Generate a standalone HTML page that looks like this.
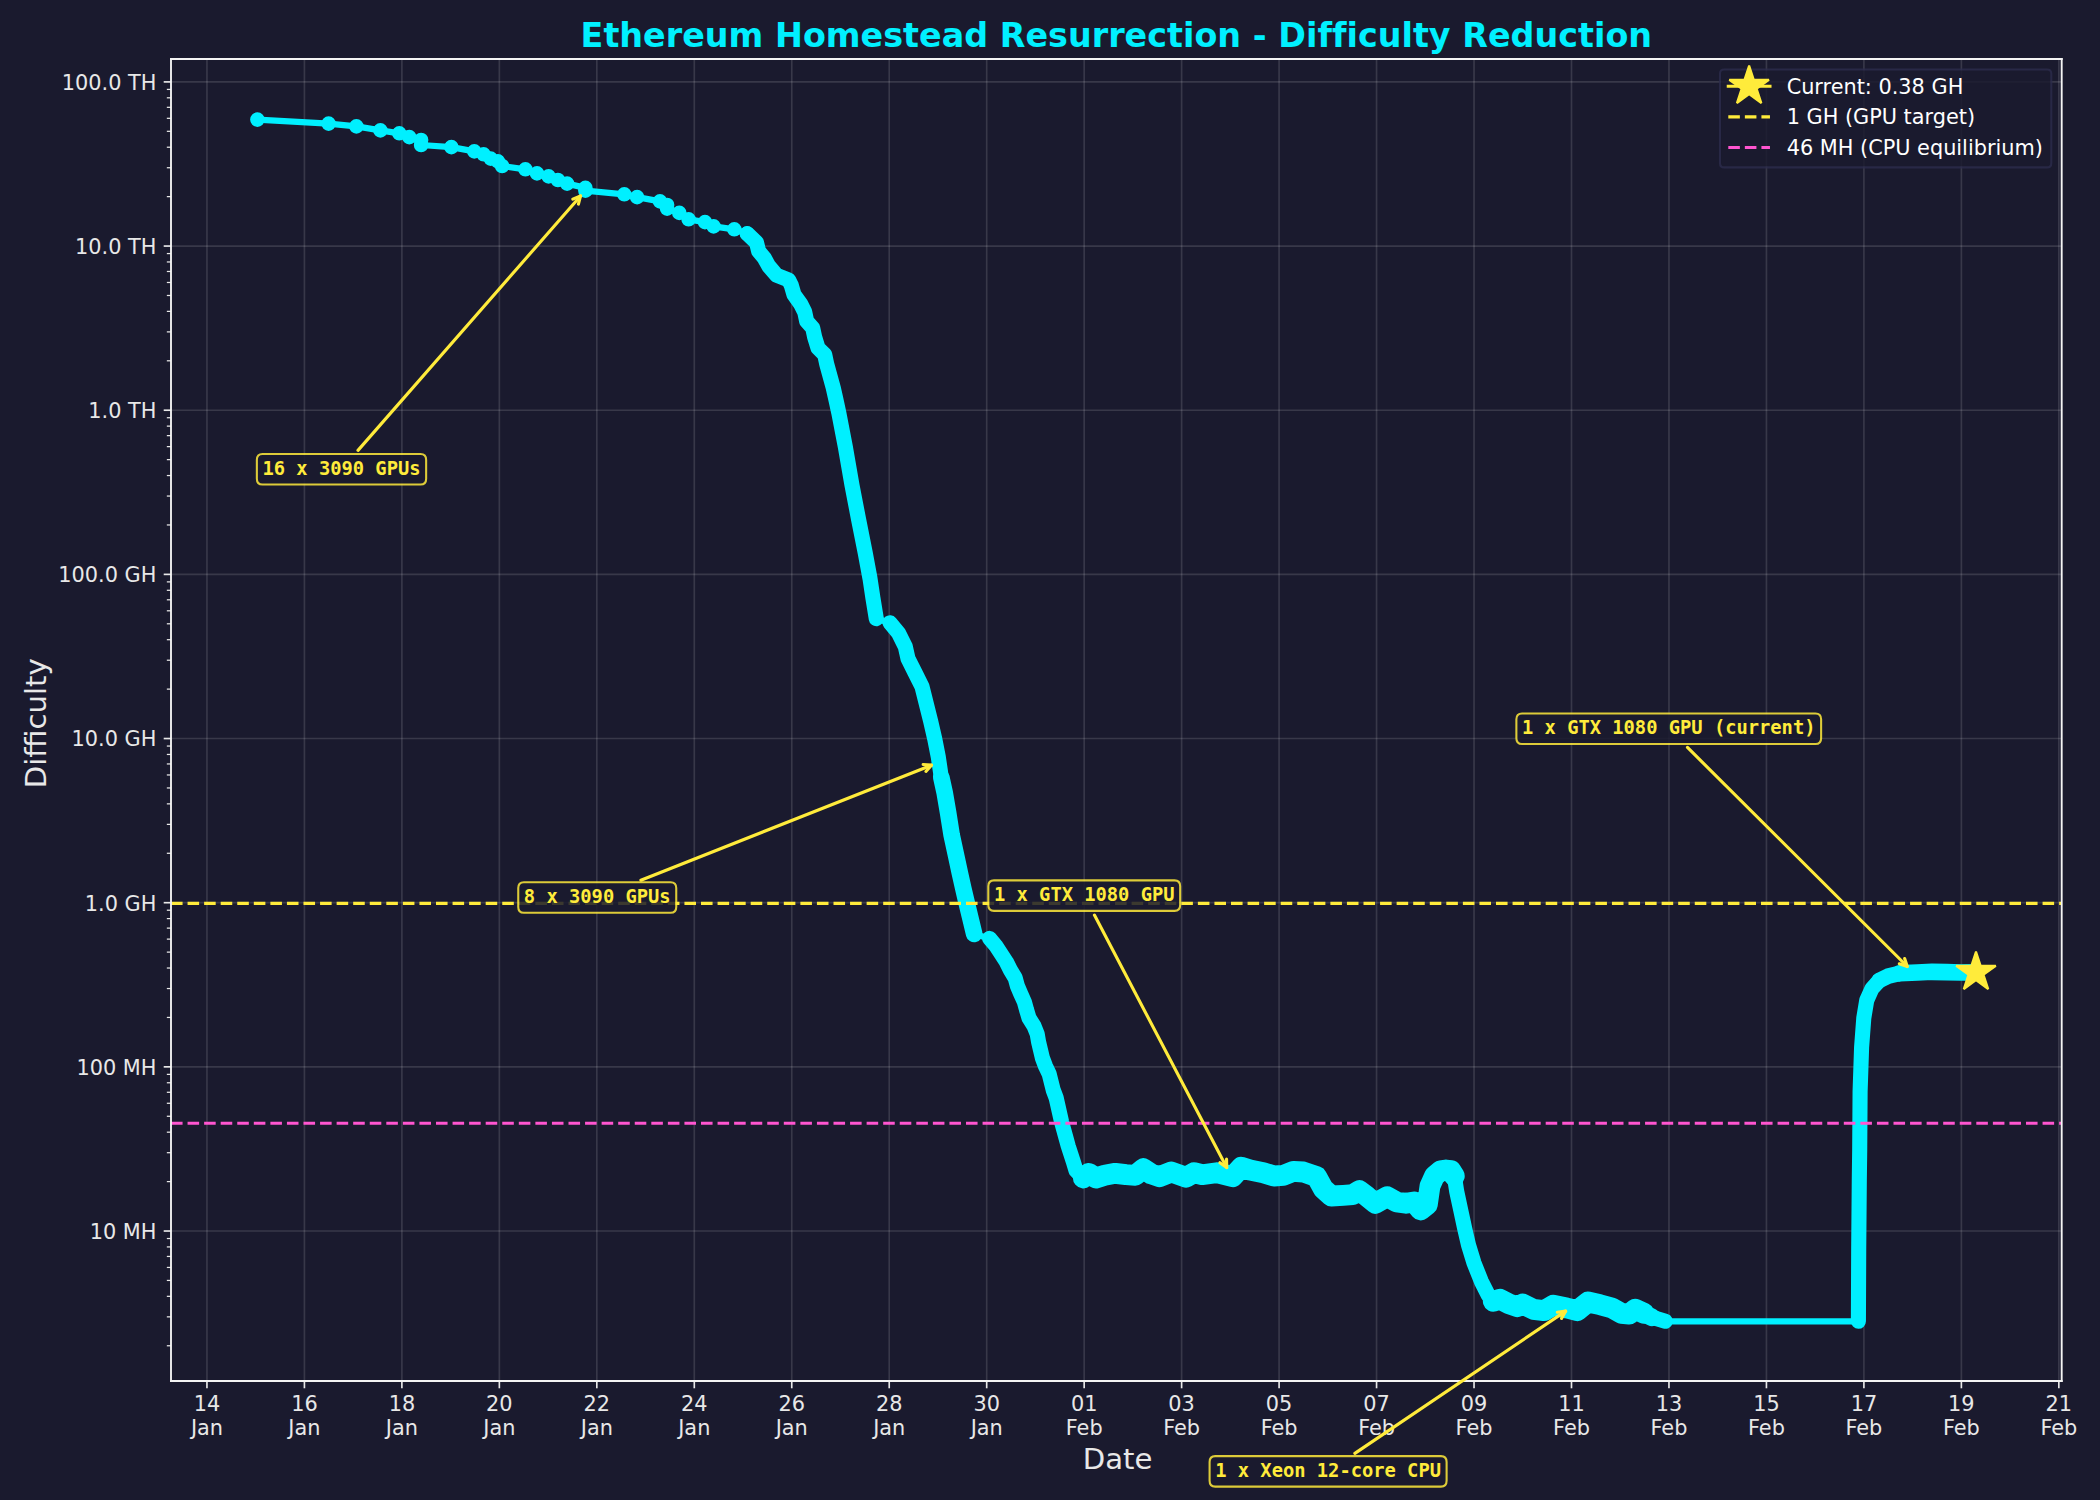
<!DOCTYPE html>
<html lang="en">
<head>
<meta charset="utf-8">
<title>Ethereum Homestead Resurrection - Difficulty Reduction</title>
<style>
html,body{margin:0;padding:0;background:#1a1a2e;}
body{width:2100px;height:1500px;overflow:hidden;}
svg{display:block;}
</style>
</head>
<body>
<svg width="2100" height="1500" viewBox="0 0 1008 720">
<defs>
<style type="text/css">*{stroke-linejoin: round; stroke-linecap: butt}</style>
</defs>
<g id="figure_1">
<g id="patch_1">
<path d="M 0 720 L 1008 720 L 1008 0 L 0 0 z
" style="fill: #1a1a2e"/>
</g>
<g id="axes_1">
<g id="patch_2">
<path d="M 82.08 662.88 L 989.616 662.88 L 989.616 28.32 L 82.08 28.32 z
" style="fill: #1a1a2e"/>
</g>
<g id="matplotlib.axis_1">
<g id="xtick_1">
<g id="line2d_1">
<path d="M 99.336 662.88 L 99.336 28.32 
" clip-path="url(#pba036d40d7)" style="fill: none; stroke: #ffffff; stroke-opacity: 0.135; stroke-width: 0.8; stroke-linecap: square"/>
</g>
<g id="line2d_2">
<defs>
<path id="mf7b5f0c500" d="M 0 0 L 0 3.5 
" style="stroke: #e8e8e8; stroke-width: 0.8"/>
</defs>
<g>
<use href="#mf7b5f0c500" x="99.336" y="662.88" style="fill: #e8e8e8; stroke: #e8e8e8; stroke-width: 0.8"/>
</g>
</g>
<g id="text_1">
<text style="font-size: 10px; font-family: 'DejaVu Sans', 'Liberation Sans', sans-serif; fill: #e8e8e8" transform="translate(92.973 677.478)">14</text>
<text style="font-size: 10px; font-family: 'DejaVu Sans', 'Liberation Sans', sans-serif; fill: #e8e8e8" transform="translate(91.628 688.676)">Jan</text>
</g>
</g>
<g id="xtick_2">
<g id="line2d_3">
<path d="M 146.120 662.88 L 146.120 28.32 
" clip-path="url(#pba036d40d7)" style="fill: none; stroke: #ffffff; stroke-opacity: 0.135; stroke-width: 0.8; stroke-linecap: square"/>
</g>
<g id="line2d_4">
<g>
<use href="#mf7b5f0c500" x="146.120" y="662.88" style="fill: #e8e8e8; stroke: #e8e8e8; stroke-width: 0.8"/>
</g>
</g>
<g id="text_2">
<text style="font-size: 10px; font-family: 'DejaVu Sans', 'Liberation Sans', sans-serif; fill: #e8e8e8" transform="translate(139.758 677.478)">16</text>
<text style="font-size: 10px; font-family: 'DejaVu Sans', 'Liberation Sans', sans-serif; fill: #e8e8e8" transform="translate(138.412 688.676)">Jan</text>
</g>
</g>
<g id="xtick_3">
<g id="line2d_5">
<path d="M 192.905 662.88 L 192.905 28.32 
" clip-path="url(#pba036d40d7)" style="fill: none; stroke: #ffffff; stroke-opacity: 0.135; stroke-width: 0.8; stroke-linecap: square"/>
</g>
<g id="line2d_6">
<g>
<use href="#mf7b5f0c500" x="192.905" y="662.88" style="fill: #e8e8e8; stroke: #e8e8e8; stroke-width: 0.8"/>
</g>
</g>
<g id="text_3">
<text style="font-size: 10px; font-family: 'DejaVu Sans', 'Liberation Sans', sans-serif; fill: #e8e8e8" transform="translate(186.542 677.478)">18</text>
<text style="font-size: 10px; font-family: 'DejaVu Sans', 'Liberation Sans', sans-serif; fill: #e8e8e8" transform="translate(185.197 688.676)">Jan</text>
</g>
</g>
<g id="xtick_4">
<g id="line2d_7">
<path d="M 239.689 662.88 L 239.689 28.32 
" clip-path="url(#pba036d40d7)" style="fill: none; stroke: #ffffff; stroke-opacity: 0.135; stroke-width: 0.8; stroke-linecap: square"/>
</g>
<g id="line2d_8">
<g>
<use href="#mf7b5f0c500" x="239.689" y="662.88" style="fill: #e8e8e8; stroke: #e8e8e8; stroke-width: 0.8"/>
</g>
</g>
<g id="text_4">
<text style="font-size: 10px; font-family: 'DejaVu Sans', 'Liberation Sans', sans-serif; fill: #e8e8e8" transform="translate(233.327 677.478)">20</text>
<text style="font-size: 10px; font-family: 'DejaVu Sans', 'Liberation Sans', sans-serif; fill: #e8e8e8" transform="translate(231.982 688.676)">Jan</text>
</g>
</g>
<g id="xtick_5">
<g id="line2d_9">
<path d="M 286.474 662.88 L 286.474 28.32 
" clip-path="url(#pba036d40d7)" style="fill: none; stroke: #ffffff; stroke-opacity: 0.135; stroke-width: 0.8; stroke-linecap: square"/>
</g>
<g id="line2d_10">
<g>
<use href="#mf7b5f0c500" x="286.474" y="662.88" style="fill: #e8e8e8; stroke: #e8e8e8; stroke-width: 0.8"/>
</g>
</g>
<g id="text_5">
<text style="font-size: 10px; font-family: 'DejaVu Sans', 'Liberation Sans', sans-serif; fill: #e8e8e8" transform="translate(280.112 677.478)">22</text>
<text style="font-size: 10px; font-family: 'DejaVu Sans', 'Liberation Sans', sans-serif; fill: #e8e8e8" transform="translate(278.766 688.676)">Jan</text>
</g>
</g>
<g id="xtick_6">
<g id="line2d_11">
<path d="M 333.259 662.88 L 333.259 28.32 
" clip-path="url(#pba036d40d7)" style="fill: none; stroke: #ffffff; stroke-opacity: 0.135; stroke-width: 0.8; stroke-linecap: square"/>
</g>
<g id="line2d_12">
<g>
<use href="#mf7b5f0c500" x="333.259" y="662.88" style="fill: #e8e8e8; stroke: #e8e8e8; stroke-width: 0.8"/>
</g>
</g>
<g id="text_6">
<text style="font-size: 10px; font-family: 'DejaVu Sans', 'Liberation Sans', sans-serif; fill: #e8e8e8" transform="translate(326.896 677.478)">24</text>
<text style="font-size: 10px; font-family: 'DejaVu Sans', 'Liberation Sans', sans-serif; fill: #e8e8e8" transform="translate(325.551 688.676)">Jan</text>
</g>
</g>
<g id="xtick_7">
<g id="line2d_13">
<path d="M 380.043 662.88 L 380.043 28.32 
" clip-path="url(#pba036d40d7)" style="fill: none; stroke: #ffffff; stroke-opacity: 0.135; stroke-width: 0.8; stroke-linecap: square"/>
</g>
<g id="line2d_14">
<g>
<use href="#mf7b5f0c500" x="380.043" y="662.88" style="fill: #e8e8e8; stroke: #e8e8e8; stroke-width: 0.8"/>
</g>
</g>
<g id="text_7">
<text style="font-size: 10px; font-family: 'DejaVu Sans', 'Liberation Sans', sans-serif; fill: #e8e8e8" transform="translate(373.681 677.478)">26</text>
<text style="font-size: 10px; font-family: 'DejaVu Sans', 'Liberation Sans', sans-serif; fill: #e8e8e8" transform="translate(372.336 688.676)">Jan</text>
</g>
</g>
<g id="xtick_8">
<g id="line2d_15">
<path d="M 426.828 662.88 L 426.828 28.32 
" clip-path="url(#pba036d40d7)" style="fill: none; stroke: #ffffff; stroke-opacity: 0.135; stroke-width: 0.8; stroke-linecap: square"/>
</g>
<g id="line2d_16">
<g>
<use href="#mf7b5f0c500" x="426.828" y="662.88" style="fill: #e8e8e8; stroke: #e8e8e8; stroke-width: 0.8"/>
</g>
</g>
<g id="text_8">
<text style="font-size: 10px; font-family: 'DejaVu Sans', 'Liberation Sans', sans-serif; fill: #e8e8e8" transform="translate(420.465 677.478)">28</text>
<text style="font-size: 10px; font-family: 'DejaVu Sans', 'Liberation Sans', sans-serif; fill: #e8e8e8" transform="translate(419.120 688.676)">Jan</text>
</g>
</g>
<g id="xtick_9">
<g id="line2d_17">
<path d="M 473.613 662.88 L 473.613 28.32 
" clip-path="url(#pba036d40d7)" style="fill: none; stroke: #ffffff; stroke-opacity: 0.135; stroke-width: 0.8; stroke-linecap: square"/>
</g>
<g id="line2d_18">
<g>
<use href="#mf7b5f0c500" x="473.613" y="662.88" style="fill: #e8e8e8; stroke: #e8e8e8; stroke-width: 0.8"/>
</g>
</g>
<g id="text_9">
<text style="font-size: 10px; font-family: 'DejaVu Sans', 'Liberation Sans', sans-serif; fill: #e8e8e8" transform="translate(467.250 677.478)">30</text>
<text style="font-size: 10px; font-family: 'DejaVu Sans', 'Liberation Sans', sans-serif; fill: #e8e8e8" transform="translate(465.905 688.676)">Jan</text>
</g>
</g>
<g id="xtick_10">
<g id="line2d_19">
<path d="M 520.397 662.88 L 520.397 28.32 
" clip-path="url(#pba036d40d7)" style="fill: none; stroke: #ffffff; stroke-opacity: 0.135; stroke-width: 0.8; stroke-linecap: square"/>
</g>
<g id="line2d_20">
<g>
<use href="#mf7b5f0c500" x="520.397" y="662.88" style="fill: #e8e8e8; stroke: #e8e8e8; stroke-width: 0.8"/>
</g>
</g>
<g id="text_10">
<text style="font-size: 10px; font-family: 'DejaVu Sans', 'Liberation Sans', sans-serif; fill: #e8e8e8" transform="translate(514.035 677.478)">01</text>
<text style="font-size: 10px; font-family: 'DejaVu Sans', 'Liberation Sans', sans-serif; fill: #e8e8e8" transform="translate(511.546 688.676)">Feb</text>
</g>
</g>
<g id="xtick_11">
<g id="line2d_21">
<path d="M 567.182 662.88 L 567.182 28.32 
" clip-path="url(#pba036d40d7)" style="fill: none; stroke: #ffffff; stroke-opacity: 0.135; stroke-width: 0.8; stroke-linecap: square"/>
</g>
<g id="line2d_22">
<g>
<use href="#mf7b5f0c500" x="567.182" y="662.88" style="fill: #e8e8e8; stroke: #e8e8e8; stroke-width: 0.8"/>
</g>
</g>
<g id="text_11">
<text style="font-size: 10px; font-family: 'DejaVu Sans', 'Liberation Sans', sans-serif; fill: #e8e8e8" transform="translate(560.819 677.478)">03</text>
<text style="font-size: 10px; font-family: 'DejaVu Sans', 'Liberation Sans', sans-serif; fill: #e8e8e8" transform="translate(558.330 688.676)">Feb</text>
</g>
</g>
<g id="xtick_12">
<g id="line2d_23">
<path d="M 613.967 662.88 L 613.967 28.32 
" clip-path="url(#pba036d40d7)" style="fill: none; stroke: #ffffff; stroke-opacity: 0.135; stroke-width: 0.8; stroke-linecap: square"/>
</g>
<g id="line2d_24">
<g>
<use href="#mf7b5f0c500" x="613.967" y="662.88" style="fill: #e8e8e8; stroke: #e8e8e8; stroke-width: 0.8"/>
</g>
</g>
<g id="text_12">
<text style="font-size: 10px; font-family: 'DejaVu Sans', 'Liberation Sans', sans-serif; fill: #e8e8e8" transform="translate(607.604 677.478)">05</text>
<text style="font-size: 10px; font-family: 'DejaVu Sans', 'Liberation Sans', sans-serif; fill: #e8e8e8" transform="translate(605.115 688.676)">Feb</text>
</g>
</g>
<g id="xtick_13">
<g id="line2d_25">
<path d="M 660.751 662.88 L 660.751 28.32 
" clip-path="url(#pba036d40d7)" style="fill: none; stroke: #ffffff; stroke-opacity: 0.135; stroke-width: 0.8; stroke-linecap: square"/>
</g>
<g id="line2d_26">
<g>
<use href="#mf7b5f0c500" x="660.751" y="662.88" style="fill: #e8e8e8; stroke: #e8e8e8; stroke-width: 0.8"/>
</g>
</g>
<g id="text_13">
<text style="font-size: 10px; font-family: 'DejaVu Sans', 'Liberation Sans', sans-serif; fill: #e8e8e8" transform="translate(654.389 677.478)">07</text>
<text style="font-size: 10px; font-family: 'DejaVu Sans', 'Liberation Sans', sans-serif; fill: #e8e8e8" transform="translate(651.900 688.676)">Feb</text>
</g>
</g>
<g id="xtick_14">
<g id="line2d_27">
<path d="M 707.536 662.88 L 707.536 28.32 
" clip-path="url(#pba036d40d7)" style="fill: none; stroke: #ffffff; stroke-opacity: 0.135; stroke-width: 0.8; stroke-linecap: square"/>
</g>
<g id="line2d_28">
<g>
<use href="#mf7b5f0c500" x="707.536" y="662.88" style="fill: #e8e8e8; stroke: #e8e8e8; stroke-width: 0.8"/>
</g>
</g>
<g id="text_14">
<text style="font-size: 10px; font-family: 'DejaVu Sans', 'Liberation Sans', sans-serif; fill: #e8e8e8" transform="translate(701.173 677.478)">09</text>
<text style="font-size: 10px; font-family: 'DejaVu Sans', 'Liberation Sans', sans-serif; fill: #e8e8e8" transform="translate(698.684 688.676)">Feb</text>
</g>
</g>
<g id="xtick_15">
<g id="line2d_29">
<path d="M 754.320 662.88 L 754.320 28.32 
" clip-path="url(#pba036d40d7)" style="fill: none; stroke: #ffffff; stroke-opacity: 0.135; stroke-width: 0.8; stroke-linecap: square"/>
</g>
<g id="line2d_30">
<g>
<use href="#mf7b5f0c500" x="754.320" y="662.88" style="fill: #e8e8e8; stroke: #e8e8e8; stroke-width: 0.8"/>
</g>
</g>
<g id="text_15">
<text style="font-size: 10px; font-family: 'DejaVu Sans', 'Liberation Sans', sans-serif; fill: #e8e8e8" transform="translate(747.958 677.478)">11</text>
<text style="font-size: 10px; font-family: 'DejaVu Sans', 'Liberation Sans', sans-serif; fill: #e8e8e8" transform="translate(745.469 688.676)">Feb</text>
</g>
</g>
<g id="xtick_16">
<g id="line2d_31">
<path d="M 801.105 662.88 L 801.105 28.32 
" clip-path="url(#pba036d40d7)" style="fill: none; stroke: #ffffff; stroke-opacity: 0.135; stroke-width: 0.8; stroke-linecap: square"/>
</g>
<g id="line2d_32">
<g>
<use href="#mf7b5f0c500" x="801.105" y="662.88" style="fill: #e8e8e8; stroke: #e8e8e8; stroke-width: 0.8"/>
</g>
</g>
<g id="text_16">
<text style="font-size: 10px; font-family: 'DejaVu Sans', 'Liberation Sans', sans-serif; fill: #e8e8e8" transform="translate(794.743 677.478)">13</text>
<text style="font-size: 10px; font-family: 'DejaVu Sans', 'Liberation Sans', sans-serif; fill: #e8e8e8" transform="translate(792.254 688.676)">Feb</text>
</g>
</g>
<g id="xtick_17">
<g id="line2d_33">
<path d="M 847.890 662.88 L 847.890 28.32 
" clip-path="url(#pba036d40d7)" style="fill: none; stroke: #ffffff; stroke-opacity: 0.135; stroke-width: 0.8; stroke-linecap: square"/>
</g>
<g id="line2d_34">
<g>
<use href="#mf7b5f0c500" x="847.890" y="662.88" style="fill: #e8e8e8; stroke: #e8e8e8; stroke-width: 0.8"/>
</g>
</g>
<g id="text_17">
<text style="font-size: 10px; font-family: 'DejaVu Sans', 'Liberation Sans', sans-serif; fill: #e8e8e8" transform="translate(841.527 677.478)">15</text>
<text style="font-size: 10px; font-family: 'DejaVu Sans', 'Liberation Sans', sans-serif; fill: #e8e8e8" transform="translate(839.038 688.676)">Feb</text>
</g>
</g>
<g id="xtick_18">
<g id="line2d_35">
<path d="M 894.674 662.88 L 894.674 28.32 
" clip-path="url(#pba036d40d7)" style="fill: none; stroke: #ffffff; stroke-opacity: 0.135; stroke-width: 0.8; stroke-linecap: square"/>
</g>
<g id="line2d_36">
<g>
<use href="#mf7b5f0c500" x="894.674" y="662.88" style="fill: #e8e8e8; stroke: #e8e8e8; stroke-width: 0.8"/>
</g>
</g>
<g id="text_18">
<text style="font-size: 10px; font-family: 'DejaVu Sans', 'Liberation Sans', sans-serif; fill: #e8e8e8" transform="translate(888.312 677.478)">17</text>
<text style="font-size: 10px; font-family: 'DejaVu Sans', 'Liberation Sans', sans-serif; fill: #e8e8e8" transform="translate(885.823 688.676)">Feb</text>
</g>
</g>
<g id="xtick_19">
<g id="line2d_37">
<path d="M 941.459 662.88 L 941.459 28.32 
" clip-path="url(#pba036d40d7)" style="fill: none; stroke: #ffffff; stroke-opacity: 0.135; stroke-width: 0.8; stroke-linecap: square"/>
</g>
<g id="line2d_38">
<g>
<use href="#mf7b5f0c500" x="941.459" y="662.88" style="fill: #e8e8e8; stroke: #e8e8e8; stroke-width: 0.8"/>
</g>
</g>
<g id="text_19">
<text style="font-size: 10px; font-family: 'DejaVu Sans', 'Liberation Sans', sans-serif; fill: #e8e8e8" transform="translate(935.097 677.478)">19</text>
<text style="font-size: 10px; font-family: 'DejaVu Sans', 'Liberation Sans', sans-serif; fill: #e8e8e8" transform="translate(932.607 688.676)">Feb</text>
</g>
</g>
<g id="xtick_20">
<g id="line2d_39">
<path d="M 988.244 662.88 L 988.244 28.32 
" clip-path="url(#pba036d40d7)" style="fill: none; stroke: #ffffff; stroke-opacity: 0.135; stroke-width: 0.8; stroke-linecap: square"/>
</g>
<g id="line2d_40">
<g>
<use href="#mf7b5f0c500" x="988.244" y="662.88" style="fill: #e8e8e8; stroke: #e8e8e8; stroke-width: 0.8"/>
</g>
</g>
<g id="text_20">
<text style="font-size: 10px; font-family: 'DejaVu Sans', 'Liberation Sans', sans-serif; fill: #e8e8e8" transform="translate(981.881 677.478)">21</text>
<text style="font-size: 10px; font-family: 'DejaVu Sans', 'Liberation Sans', sans-serif; fill: #e8e8e8" transform="translate(979.392 688.676)">Feb</text>
</g>
</g>
<g id="text_21">
<text style="font-size: 14px; font-family: 'DejaVu Sans', 'Liberation Sans', sans-serif; text-anchor: middle; fill: #e8e8e8" x="536.424" y="704.914" transform="rotate(-0 536.424 704.914)">Date</text>
</g>
</g>
<g id="matplotlib.axis_2">
<g id="ytick_1">
<g id="line2d_41">
<path d="M 82.08 590.889 L 989.616 590.889 
" clip-path="url(#pba036d40d7)" style="fill: none; stroke: #ffffff; stroke-opacity: 0.135; stroke-width: 0.8; stroke-linecap: square"/>
</g>
<g id="line2d_42">
<defs>
<path id="mce7047a37b" d="M 0 0 L -3.5 0 
" style="stroke: #e8e8e8; stroke-width: 0.8"/>
</defs>
<g>
<use href="#mce7047a37b" x="82.08" y="590.889" style="fill: #e8e8e8; stroke: #e8e8e8; stroke-width: 0.8"/>
</g>
</g>
<g id="text_22">
<text style="font-size: 10px; font-family: 'DejaVu Sans', 'Liberation Sans', sans-serif; text-anchor: end; fill: #e8e8e8" x="75.08" y="594.688" transform="rotate(-0 75.08 594.688)">10 MH</text>
</g>
</g>
<g id="ytick_2">
<g id="line2d_43">
<path d="M 82.08 512.092 L 989.616 512.092 
" clip-path="url(#pba036d40d7)" style="fill: none; stroke: #ffffff; stroke-opacity: 0.135; stroke-width: 0.8; stroke-linecap: square"/>
</g>
<g id="line2d_44">
<g>
<use href="#mce7047a37b" x="82.08" y="512.092" style="fill: #e8e8e8; stroke: #e8e8e8; stroke-width: 0.8"/>
</g>
</g>
<g id="text_23">
<text style="font-size: 10px; font-family: 'DejaVu Sans', 'Liberation Sans', sans-serif; text-anchor: end; fill: #e8e8e8" x="75.08" y="515.892" transform="rotate(-0 75.08 515.892)">100 MH</text>
</g>
</g>
<g id="ytick_3">
<g id="line2d_45">
<path d="M 82.08 433.296 L 989.616 433.296 
" clip-path="url(#pba036d40d7)" style="fill: none; stroke: #ffffff; stroke-opacity: 0.135; stroke-width: 0.8; stroke-linecap: square"/>
</g>
<g id="line2d_46">
<g>
<use href="#mce7047a37b" x="82.08" y="433.296" style="fill: #e8e8e8; stroke: #e8e8e8; stroke-width: 0.8"/>
</g>
</g>
<g id="text_24">
<text style="font-size: 10px; font-family: 'DejaVu Sans', 'Liberation Sans', sans-serif; text-anchor: end; fill: #e8e8e8" x="75.08" y="437.095" transform="rotate(-0 75.08 437.095)">1.0 GH</text>
</g>
</g>
<g id="ytick_4">
<g id="line2d_47">
<path d="M 82.08 354.499 L 989.616 354.499 
" clip-path="url(#pba036d40d7)" style="fill: none; stroke: #ffffff; stroke-opacity: 0.135; stroke-width: 0.8; stroke-linecap: square"/>
</g>
<g id="line2d_48">
<g>
<use href="#mce7047a37b" x="82.08" y="354.499" style="fill: #e8e8e8; stroke: #e8e8e8; stroke-width: 0.8"/>
</g>
</g>
<g id="text_25">
<text style="font-size: 10px; font-family: 'DejaVu Sans', 'Liberation Sans', sans-serif; text-anchor: end; fill: #e8e8e8" x="75.08" y="358.298" transform="rotate(-0 75.08 358.298)">10.0 GH</text>
</g>
</g>
<g id="ytick_5">
<g id="line2d_49">
<path d="M 82.08 275.702 L 989.616 275.702 
" clip-path="url(#pba036d40d7)" style="fill: none; stroke: #ffffff; stroke-opacity: 0.135; stroke-width: 0.8; stroke-linecap: square"/>
</g>
<g id="line2d_50">
<g>
<use href="#mce7047a37b" x="82.08" y="275.702" style="fill: #e8e8e8; stroke: #e8e8e8; stroke-width: 0.8"/>
</g>
</g>
<g id="text_26">
<text style="font-size: 10px; font-family: 'DejaVu Sans', 'Liberation Sans', sans-serif; text-anchor: end; fill: #e8e8e8" x="75.08" y="279.501" transform="rotate(-0 75.08 279.501)">100.0 GH</text>
</g>
</g>
<g id="ytick_6">
<g id="line2d_51">
<path d="M 82.08 196.905 L 989.616 196.905 
" clip-path="url(#pba036d40d7)" style="fill: none; stroke: #ffffff; stroke-opacity: 0.135; stroke-width: 0.8; stroke-linecap: square"/>
</g>
<g id="line2d_52">
<g>
<use href="#mce7047a37b" x="82.08" y="196.905" style="fill: #e8e8e8; stroke: #e8e8e8; stroke-width: 0.8"/>
</g>
</g>
<g id="text_27">
<text style="font-size: 10px; font-family: 'DejaVu Sans', 'Liberation Sans', sans-serif; text-anchor: end; fill: #e8e8e8" x="75.08" y="200.704" transform="rotate(-0 75.08 200.704)">1.0 TH</text>
</g>
</g>
<g id="ytick_7">
<g id="line2d_53">
<path d="M 82.08 118.108 L 989.616 118.108 
" clip-path="url(#pba036d40d7)" style="fill: none; stroke: #ffffff; stroke-opacity: 0.135; stroke-width: 0.8; stroke-linecap: square"/>
</g>
<g id="line2d_54">
<g>
<use href="#mce7047a37b" x="82.08" y="118.108" style="fill: #e8e8e8; stroke: #e8e8e8; stroke-width: 0.8"/>
</g>
</g>
<g id="text_28">
<text style="font-size: 10px; font-family: 'DejaVu Sans', 'Liberation Sans', sans-serif; text-anchor: end; fill: #e8e8e8" x="75.08" y="121.908" transform="rotate(-0 75.08 121.908)">10.0 TH</text>
</g>
</g>
<g id="ytick_8">
<g id="line2d_55">
<path d="M 82.08 39.312 L 989.616 39.312 
" clip-path="url(#pba036d40d7)" style="fill: none; stroke: #ffffff; stroke-opacity: 0.135; stroke-width: 0.8; stroke-linecap: square"/>
</g>
<g id="line2d_56">
<g>
<use href="#mce7047a37b" x="82.08" y="39.312" style="fill: #e8e8e8; stroke: #e8e8e8; stroke-width: 0.8"/>
</g>
</g>
<g id="text_29">
<text style="font-size: 10px; font-family: 'DejaVu Sans', 'Liberation Sans', sans-serif; text-anchor: end; fill: #e8e8e8" x="75.08" y="43.111" transform="rotate(-0 75.08 43.111)">100.0 TH</text>
</g>
</g>
<g id="ytick_9">
<g id="line2d_57">
<defs>
<path id="m260cb1a2a6" d="M 0 0 L -2 0 
" style="stroke: #e8e8e8; stroke-width: 0.6"/>
</defs>
<g>
<use href="#m260cb1a2a6" x="82.08" y="645.966" style="fill: #e8e8e8; stroke: #e8e8e8; stroke-width: 0.6"/>
</g>
</g>
</g>
<g id="ytick_10">
<g id="line2d_58">
<g>
<use href="#m260cb1a2a6" x="82.08" y="632.090" style="fill: #e8e8e8; stroke: #e8e8e8; stroke-width: 0.6"/>
</g>
</g>
</g>
<g id="ytick_11">
<g id="line2d_59">
<g>
<use href="#m260cb1a2a6" x="82.08" y="622.245" style="fill: #e8e8e8; stroke: #e8e8e8; stroke-width: 0.6"/>
</g>
</g>
</g>
<g id="ytick_12">
<g id="line2d_60">
<g>
<use href="#m260cb1a2a6" x="82.08" y="614.609" style="fill: #e8e8e8; stroke: #e8e8e8; stroke-width: 0.6"/>
</g>
</g>
</g>
<g id="ytick_13">
<g id="line2d_61">
<g>
<use href="#m260cb1a2a6" x="82.08" y="608.370" style="fill: #e8e8e8; stroke: #e8e8e8; stroke-width: 0.6"/>
</g>
</g>
</g>
<g id="ytick_14">
<g id="line2d_62">
<g>
<use href="#m260cb1a2a6" x="82.08" y="603.095" style="fill: #e8e8e8; stroke: #e8e8e8; stroke-width: 0.6"/>
</g>
</g>
</g>
<g id="ytick_15">
<g id="line2d_63">
<g>
<use href="#m260cb1a2a6" x="82.08" y="598.525" style="fill: #e8e8e8; stroke: #e8e8e8; stroke-width: 0.6"/>
</g>
</g>
</g>
<g id="ytick_16">
<g id="line2d_64">
<g>
<use href="#m260cb1a2a6" x="82.08" y="594.495" style="fill: #e8e8e8; stroke: #e8e8e8; stroke-width: 0.6"/>
</g>
</g>
</g>
<g id="ytick_17">
<g id="line2d_65">
<g>
<use href="#m260cb1a2a6" x="82.08" y="567.169" style="fill: #e8e8e8; stroke: #e8e8e8; stroke-width: 0.6"/>
</g>
</g>
</g>
<g id="ytick_18">
<g id="line2d_66">
<g>
<use href="#m260cb1a2a6" x="82.08" y="553.293" style="fill: #e8e8e8; stroke: #e8e8e8; stroke-width: 0.6"/>
</g>
</g>
</g>
<g id="ytick_19">
<g id="line2d_67">
<g>
<use href="#m260cb1a2a6" x="82.08" y="543.449" style="fill: #e8e8e8; stroke: #e8e8e8; stroke-width: 0.6"/>
</g>
</g>
</g>
<g id="ytick_20">
<g id="line2d_68">
<g>
<use href="#m260cb1a2a6" x="82.08" y="535.813" style="fill: #e8e8e8; stroke: #e8e8e8; stroke-width: 0.6"/>
</g>
</g>
</g>
<g id="ytick_21">
<g id="line2d_69">
<g>
<use href="#m260cb1a2a6" x="82.08" y="529.573" style="fill: #e8e8e8; stroke: #e8e8e8; stroke-width: 0.6"/>
</g>
</g>
</g>
<g id="ytick_22">
<g id="line2d_70">
<g>
<use href="#m260cb1a2a6" x="82.08" y="524.298" style="fill: #e8e8e8; stroke: #e8e8e8; stroke-width: 0.6"/>
</g>
</g>
</g>
<g id="ytick_23">
<g id="line2d_71">
<g>
<use href="#m260cb1a2a6" x="82.08" y="519.728" style="fill: #e8e8e8; stroke: #e8e8e8; stroke-width: 0.6"/>
</g>
</g>
</g>
<g id="ytick_24">
<g id="line2d_72">
<g>
<use href="#m260cb1a2a6" x="82.08" y="515.698" style="fill: #e8e8e8; stroke: #e8e8e8; stroke-width: 0.6"/>
</g>
</g>
</g>
<g id="ytick_25">
<g id="line2d_73">
<g>
<use href="#m260cb1a2a6" x="82.08" y="488.372" style="fill: #e8e8e8; stroke: #e8e8e8; stroke-width: 0.6"/>
</g>
</g>
</g>
<g id="ytick_26">
<g id="line2d_74">
<g>
<use href="#m260cb1a2a6" x="82.08" y="474.497" style="fill: #e8e8e8; stroke: #e8e8e8; stroke-width: 0.6"/>
</g>
</g>
</g>
<g id="ytick_27">
<g id="line2d_75">
<g>
<use href="#m260cb1a2a6" x="82.08" y="464.652" style="fill: #e8e8e8; stroke: #e8e8e8; stroke-width: 0.6"/>
</g>
</g>
</g>
<g id="ytick_28">
<g id="line2d_76">
<g>
<use href="#m260cb1a2a6" x="82.08" y="457.016" style="fill: #e8e8e8; stroke: #e8e8e8; stroke-width: 0.6"/>
</g>
</g>
</g>
<g id="ytick_29">
<g id="line2d_77">
<g>
<use href="#m260cb1a2a6" x="82.08" y="450.776" style="fill: #e8e8e8; stroke: #e8e8e8; stroke-width: 0.6"/>
</g>
</g>
</g>
<g id="ytick_30">
<g id="line2d_78">
<g>
<use href="#m260cb1a2a6" x="82.08" y="445.501" style="fill: #e8e8e8; stroke: #e8e8e8; stroke-width: 0.6"/>
</g>
</g>
</g>
<g id="ytick_31">
<g id="line2d_79">
<g>
<use href="#m260cb1a2a6" x="82.08" y="440.932" style="fill: #e8e8e8; stroke: #e8e8e8; stroke-width: 0.6"/>
</g>
</g>
</g>
<g id="ytick_32">
<g id="line2d_80">
<g>
<use href="#m260cb1a2a6" x="82.08" y="436.901" style="fill: #e8e8e8; stroke: #e8e8e8; stroke-width: 0.6"/>
</g>
</g>
</g>
<g id="ytick_33">
<g id="line2d_81">
<g>
<use href="#m260cb1a2a6" x="82.08" y="409.575" style="fill: #e8e8e8; stroke: #e8e8e8; stroke-width: 0.6"/>
</g>
</g>
</g>
<g id="ytick_34">
<g id="line2d_82">
<g>
<use href="#m260cb1a2a6" x="82.08" y="395.700" style="fill: #e8e8e8; stroke: #e8e8e8; stroke-width: 0.6"/>
</g>
</g>
</g>
<g id="ytick_35">
<g id="line2d_83">
<g>
<use href="#m260cb1a2a6" x="82.08" y="385.855" style="fill: #e8e8e8; stroke: #e8e8e8; stroke-width: 0.6"/>
</g>
</g>
</g>
<g id="ytick_36">
<g id="line2d_84">
<g>
<use href="#m260cb1a2a6" x="82.08" y="378.219" style="fill: #e8e8e8; stroke: #e8e8e8; stroke-width: 0.6"/>
</g>
</g>
</g>
<g id="ytick_37">
<g id="line2d_85">
<g>
<use href="#m260cb1a2a6" x="82.08" y="371.980" style="fill: #e8e8e8; stroke: #e8e8e8; stroke-width: 0.6"/>
</g>
</g>
</g>
<g id="ytick_38">
<g id="line2d_86">
<g>
<use href="#m260cb1a2a6" x="82.08" y="366.704" style="fill: #e8e8e8; stroke: #e8e8e8; stroke-width: 0.6"/>
</g>
</g>
</g>
<g id="ytick_39">
<g id="line2d_87">
<g>
<use href="#m260cb1a2a6" x="82.08" y="362.135" style="fill: #e8e8e8; stroke: #e8e8e8; stroke-width: 0.6"/>
</g>
</g>
</g>
<g id="ytick_40">
<g id="line2d_88">
<g>
<use href="#m260cb1a2a6" x="82.08" y="358.104" style="fill: #e8e8e8; stroke: #e8e8e8; stroke-width: 0.6"/>
</g>
</g>
</g>
<g id="ytick_41">
<g id="line2d_89">
<g>
<use href="#m260cb1a2a6" x="82.08" y="330.779" style="fill: #e8e8e8; stroke: #e8e8e8; stroke-width: 0.6"/>
</g>
</g>
</g>
<g id="ytick_42">
<g id="line2d_90">
<g>
<use href="#m260cb1a2a6" x="82.08" y="316.903" style="fill: #e8e8e8; stroke: #e8e8e8; stroke-width: 0.6"/>
</g>
</g>
</g>
<g id="ytick_43">
<g id="line2d_91">
<g>
<use href="#m260cb1a2a6" x="82.08" y="307.058" style="fill: #e8e8e8; stroke: #e8e8e8; stroke-width: 0.6"/>
</g>
</g>
</g>
<g id="ytick_44">
<g id="line2d_92">
<g>
<use href="#m260cb1a2a6" x="82.08" y="299.422" style="fill: #e8e8e8; stroke: #e8e8e8; stroke-width: 0.6"/>
</g>
</g>
</g>
<g id="ytick_45">
<g id="line2d_93">
<g>
<use href="#m260cb1a2a6" x="82.08" y="293.183" style="fill: #e8e8e8; stroke: #e8e8e8; stroke-width: 0.6"/>
</g>
</g>
</g>
<g id="ytick_46">
<g id="line2d_94">
<g>
<use href="#m260cb1a2a6" x="82.08" y="287.908" style="fill: #e8e8e8; stroke: #e8e8e8; stroke-width: 0.6"/>
</g>
</g>
</g>
<g id="ytick_47">
<g id="line2d_95">
<g>
<use href="#m260cb1a2a6" x="82.08" y="283.338" style="fill: #e8e8e8; stroke: #e8e8e8; stroke-width: 0.6"/>
</g>
</g>
</g>
<g id="ytick_48">
<g id="line2d_96">
<g>
<use href="#m260cb1a2a6" x="82.08" y="279.307" style="fill: #e8e8e8; stroke: #e8e8e8; stroke-width: 0.6"/>
</g>
</g>
</g>
<g id="ytick_49">
<g id="line2d_97">
<g>
<use href="#m260cb1a2a6" x="82.08" y="251.982" style="fill: #e8e8e8; stroke: #e8e8e8; stroke-width: 0.6"/>
</g>
</g>
</g>
<g id="ytick_50">
<g id="line2d_98">
<g>
<use href="#m260cb1a2a6" x="82.08" y="238.106" style="fill: #e8e8e8; stroke: #e8e8e8; stroke-width: 0.6"/>
</g>
</g>
</g>
<g id="ytick_51">
<g id="line2d_99">
<g>
<use href="#m260cb1a2a6" x="82.08" y="228.261" style="fill: #e8e8e8; stroke: #e8e8e8; stroke-width: 0.6"/>
</g>
</g>
</g>
<g id="ytick_52">
<g id="line2d_100">
<g>
<use href="#m260cb1a2a6" x="82.08" y="220.625" style="fill: #e8e8e8; stroke: #e8e8e8; stroke-width: 0.6"/>
</g>
</g>
</g>
<g id="ytick_53">
<g id="line2d_101">
<g>
<use href="#m260cb1a2a6" x="82.08" y="214.386" style="fill: #e8e8e8; stroke: #e8e8e8; stroke-width: 0.6"/>
</g>
</g>
</g>
<g id="ytick_54">
<g id="line2d_102">
<g>
<use href="#m260cb1a2a6" x="82.08" y="209.111" style="fill: #e8e8e8; stroke: #e8e8e8; stroke-width: 0.6"/>
</g>
</g>
</g>
<g id="ytick_55">
<g id="line2d_103">
<g>
<use href="#m260cb1a2a6" x="82.08" y="204.541" style="fill: #e8e8e8; stroke: #e8e8e8; stroke-width: 0.6"/>
</g>
</g>
</g>
<g id="ytick_56">
<g id="line2d_104">
<g>
<use href="#m260cb1a2a6" x="82.08" y="200.511" style="fill: #e8e8e8; stroke: #e8e8e8; stroke-width: 0.6"/>
</g>
</g>
</g>
<g id="ytick_57">
<g id="line2d_105">
<g>
<use href="#m260cb1a2a6" x="82.08" y="173.185" style="fill: #e8e8e8; stroke: #e8e8e8; stroke-width: 0.6"/>
</g>
</g>
</g>
<g id="ytick_58">
<g id="line2d_106">
<g>
<use href="#m260cb1a2a6" x="82.08" y="159.309" style="fill: #e8e8e8; stroke: #e8e8e8; stroke-width: 0.6"/>
</g>
</g>
</g>
<g id="ytick_59">
<g id="line2d_107">
<g>
<use href="#m260cb1a2a6" x="82.08" y="149.465" style="fill: #e8e8e8; stroke: #e8e8e8; stroke-width: 0.6"/>
</g>
</g>
</g>
<g id="ytick_60">
<g id="line2d_108">
<g>
<use href="#m260cb1a2a6" x="82.08" y="141.829" style="fill: #e8e8e8; stroke: #e8e8e8; stroke-width: 0.6"/>
</g>
</g>
</g>
<g id="ytick_61">
<g id="line2d_109">
<g>
<use href="#m260cb1a2a6" x="82.08" y="135.589" style="fill: #e8e8e8; stroke: #e8e8e8; stroke-width: 0.6"/>
</g>
</g>
</g>
<g id="ytick_62">
<g id="line2d_110">
<g>
<use href="#m260cb1a2a6" x="82.08" y="130.314" style="fill: #e8e8e8; stroke: #e8e8e8; stroke-width: 0.6"/>
</g>
</g>
</g>
<g id="ytick_63">
<g id="line2d_111">
<g>
<use href="#m260cb1a2a6" x="82.08" y="125.744" style="fill: #e8e8e8; stroke: #e8e8e8; stroke-width: 0.6"/>
</g>
</g>
</g>
<g id="ytick_64">
<g id="line2d_112">
<g>
<use href="#m260cb1a2a6" x="82.08" y="121.714" style="fill: #e8e8e8; stroke: #e8e8e8; stroke-width: 0.6"/>
</g>
</g>
</g>
<g id="ytick_65">
<g id="line2d_113">
<g>
<use href="#m260cb1a2a6" x="82.08" y="94.388" style="fill: #e8e8e8; stroke: #e8e8e8; stroke-width: 0.6"/>
</g>
</g>
</g>
<g id="ytick_66">
<g id="line2d_114">
<g>
<use href="#m260cb1a2a6" x="82.08" y="80.513" style="fill: #e8e8e8; stroke: #e8e8e8; stroke-width: 0.6"/>
</g>
</g>
</g>
<g id="ytick_67">
<g id="line2d_115">
<g>
<use href="#m260cb1a2a6" x="82.08" y="70.668" style="fill: #e8e8e8; stroke: #e8e8e8; stroke-width: 0.6"/>
</g>
</g>
</g>
<g id="ytick_68">
<g id="line2d_116">
<g>
<use href="#m260cb1a2a6" x="82.08" y="63.032" style="fill: #e8e8e8; stroke: #e8e8e8; stroke-width: 0.6"/>
</g>
</g>
</g>
<g id="ytick_69">
<g id="line2d_117">
<g>
<use href="#m260cb1a2a6" x="82.08" y="56.792" style="fill: #e8e8e8; stroke: #e8e8e8; stroke-width: 0.6"/>
</g>
</g>
</g>
<g id="ytick_70">
<g id="line2d_118">
<g>
<use href="#m260cb1a2a6" x="82.08" y="51.517" style="fill: #e8e8e8; stroke: #e8e8e8; stroke-width: 0.6"/>
</g>
</g>
</g>
<g id="ytick_71">
<g id="line2d_119">
<g>
<use href="#m260cb1a2a6" x="82.08" y="46.948" style="fill: #e8e8e8; stroke: #e8e8e8; stroke-width: 0.6"/>
</g>
</g>
</g>
<g id="ytick_72">
<g id="line2d_120">
<g>
<use href="#m260cb1a2a6" x="82.08" y="42.917" style="fill: #e8e8e8; stroke: #e8e8e8; stroke-width: 0.6"/>
</g>
</g>
</g>
<g id="text_30">
<text style="font-size: 14px; font-family: 'DejaVu Sans', 'Liberation Sans', sans-serif; text-anchor: middle; fill: #e8e8e8" x="22.053" y="347.184" transform="rotate(-90 22.053 347.184)">Difficulty</text>
</g>
</g>
<g id="line2d_121">
<path d="M 123.552 57.408 L 157.728 59.328 L 171.072 60.672 L 182.592 62.592 L 191.664 63.984 L 196.464 65.808 L 202.128 67.2 L 202.128 69.6 L 216.672 70.608 L 227.664 72.672 L 232.128 74.064 L 235.536 76.128 L 238.992 77.472 L 241.008 79.68 L 252.192 81.264 L 257.76 83.232 L 263.328 84.672 L 272.208 88.128 L 280.992 90.192 L 280.992 91.536 L 299.664 93.264 L 305.808 94.608 L 316.8 96.672 L 320.208 98.4 L 320.208 100.128 L 326.064 102.192 L 330.528 105.264 L 338.4 106.608 L 342.528 108.672 L 352.464 110.064 L 358.608 112.128 L 363.12 116.4 L 364.176 120.624 L 366.96 123.984 L 368.976 127.68 L 372.816 132.144 L 378.576 134.4 L 379.824 136.944 L 381.12 141.456 L 384.336 145.92 L 386.256 149.76 L 387.216 154.224 L 390.096 157.44 L 391.056 161.904 L 392.64 167.04 L 395.856 170.256 L 396.816 174.72 L 399.984 186.24 L 402.672 198.384 L 405.744 214.416 L 408.96 232.944 L 417.6 277.68 L 418.992 286.944 L 420.624 296.976 L 427.2 298.896 L 431.376 303.984 L 434.544 310.416 L 435.84 316.176 L 442.56 329.616 L 446.736 346.224 L 448.656 354.576 L 450.384 363.36 L 451.824 373.104 L 453.504 380.784 L 455.04 389.76 L 456.768 400.656 L 462.336 426.24 L 466.32 442.896 L 467.616 448.32 L 475.008 450.432 L 478.08 454.08 L 483.072 461.76 L 484.992 465.6 L 487.296 469.44 L 488.352 473.28 L 491.712 480.96 L 493.92 488.64 L 496.32 492.48 L 497.856 496.32 L 498.528 500.16 L 500.352 507.84 L 501.792 511.68 L 503.616 515.52 L 505.536 523.2 L 506.976 527.04 L 509.568 538.56 L 512.736 550.08 L 516.48 561.84 L 519.984 565.44 L 522.576 563.184 L 526.08 565.44 L 530.256 564.144 L 535.344 563.184 L 540.48 563.856 L 544.944 564.144 L 548.784 560.976 L 552.624 563.52 L 556.464 564.816 L 562.224 562.56 L 569.28 565.104 L 573.12 562.896 L 576.96 563.856 L 584.016 562.896 L 591.696 564.816 L 595.824 560.304 L 600 561.6 L 606.384 562.896 L 611.52 564.48 L 615.984 564.144 L 620.784 562.224 L 625.584 562.56 L 632.016 564.816 L 635.184 570.576 L 639.024 574.08 L 649.296 573.456 L 652.464 571.536 L 656.304 574.416 L 660.144 577.584 L 665.904 574.416 L 670.416 576.96 L 674.88 577.584 L 678.72 576.96 L 681.936 580.8 L 685.104 578.256 L 686.4 569.28 L 688.56 564.48 L 691.536 561.984 L 694.08 561.6 L 696.48 561.888 L 698.064 564.48 L 699.216 571.824 L 703.056 589.776 L 704.88 597.6 L 707.52 606.24 L 711.024 615.024 L 714.24 621.456 L 716.784 624.624 L 720 623.664 L 724.464 625.92 L 728.304 627.216 L 730.896 625.92 L 735.984 628.464 L 741.12 629.136 L 745.584 626.544 L 752.016 627.84 L 757.104 629.136 L 762.24 624.96 L 768 626.256 L 773.76 627.84 L 778.224 630.384 L 782.064 630.72 L 784.944 628.464 L 789.12 630.384 L 792.96 632.304 L 799.344 634.224 L 892.032 634.224 L 892.176 600 L 892.848 523.824 L 893.568 502.704 L 894.624 488.64 L 896.016 480.192 L 898.512 474.576 L 902.016 470.688 L 906.24 468.576 L 911.856 467.184 L 927.36 466.464 L 941.424 466.8 L 948.48 466.704 L 948.48 466.704 
" clip-path="url(#pba036d40d7)" style="fill: none; stroke: #00f0ff; stroke-width: 3; stroke-linecap: round"/>
</g>
<g id="line2d_122">
<defs>
<path id="m5a1ca1b4e6" d="M 0 3 C 0.795 3 1.558 2.683 2.121 2.121 C 2.683 1.558 3 0.795 3 0 C 3 -0.795 2.683 -1.558 2.121 -2.121 C 1.558 -2.683 0.795 -3 0 -3 C -0.795 -3 -1.558 -2.683 -2.121 -2.121 C -2.683 -1.558 -3 -0.795 -3 0 C -3 0.795 -2.683 1.558 -2.121 2.121 C -1.558 2.683 -0.795 3 0 3 z
" style="stroke: #00f0ff"/>
</defs>
<g clip-path="url(#pba036d40d7)">
<use href="#m5a1ca1b4e6" x="123.552" y="57.408" style="fill: #00f0ff; stroke: #00f0ff"/>
<use href="#m5a1ca1b4e6" x="157.728" y="59.328" style="fill: #00f0ff; stroke: #00f0ff"/>
<use href="#m5a1ca1b4e6" x="171.072" y="60.672" style="fill: #00f0ff; stroke: #00f0ff"/>
<use href="#m5a1ca1b4e6" x="182.592" y="62.592" style="fill: #00f0ff; stroke: #00f0ff"/>
<use href="#m5a1ca1b4e6" x="191.664" y="63.984" style="fill: #00f0ff; stroke: #00f0ff"/>
<use href="#m5a1ca1b4e6" x="196.464" y="65.808" style="fill: #00f0ff; stroke: #00f0ff"/>
<use href="#m5a1ca1b4e6" x="202.128" y="67.2" style="fill: #00f0ff; stroke: #00f0ff"/>
<use href="#m5a1ca1b4e6" x="202.128" y="69.6" style="fill: #00f0ff; stroke: #00f0ff"/>
<use href="#m5a1ca1b4e6" x="216.672" y="70.608" style="fill: #00f0ff; stroke: #00f0ff"/>
<use href="#m5a1ca1b4e6" x="227.664" y="72.672" style="fill: #00f0ff; stroke: #00f0ff"/>
<use href="#m5a1ca1b4e6" x="232.128" y="74.064" style="fill: #00f0ff; stroke: #00f0ff"/>
<use href="#m5a1ca1b4e6" x="235.536" y="76.128" style="fill: #00f0ff; stroke: #00f0ff"/>
<use href="#m5a1ca1b4e6" x="238.992" y="77.472" style="fill: #00f0ff; stroke: #00f0ff"/>
<use href="#m5a1ca1b4e6" x="241.008" y="79.68" style="fill: #00f0ff; stroke: #00f0ff"/>
<use href="#m5a1ca1b4e6" x="252.192" y="81.264" style="fill: #00f0ff; stroke: #00f0ff"/>
<use href="#m5a1ca1b4e6" x="257.76" y="83.232" style="fill: #00f0ff; stroke: #00f0ff"/>
<use href="#m5a1ca1b4e6" x="263.328" y="84.672" style="fill: #00f0ff; stroke: #00f0ff"/>
<use href="#m5a1ca1b4e6" x="267.792" y="86.4" style="fill: #00f0ff; stroke: #00f0ff"/>
<use href="#m5a1ca1b4e6" x="272.208" y="88.128" style="fill: #00f0ff; stroke: #00f0ff"/>
<use href="#m5a1ca1b4e6" x="280.992" y="90.192" style="fill: #00f0ff; stroke: #00f0ff"/>
<use href="#m5a1ca1b4e6" x="280.992" y="91.536" style="fill: #00f0ff; stroke: #00f0ff"/>
<use href="#m5a1ca1b4e6" x="299.664" y="93.264" style="fill: #00f0ff; stroke: #00f0ff"/>
<use href="#m5a1ca1b4e6" x="305.808" y="94.608" style="fill: #00f0ff; stroke: #00f0ff"/>
<use href="#m5a1ca1b4e6" x="316.8" y="96.672" style="fill: #00f0ff; stroke: #00f0ff"/>
<use href="#m5a1ca1b4e6" x="320.208" y="98.4" style="fill: #00f0ff; stroke: #00f0ff"/>
<use href="#m5a1ca1b4e6" x="320.208" y="100.128" style="fill: #00f0ff; stroke: #00f0ff"/>
<use href="#m5a1ca1b4e6" x="326.064" y="102.192" style="fill: #00f0ff; stroke: #00f0ff"/>
<use href="#m5a1ca1b4e6" x="330.528" y="105.264" style="fill: #00f0ff; stroke: #00f0ff"/>
<use href="#m5a1ca1b4e6" x="338.4" y="106.608" style="fill: #00f0ff; stroke: #00f0ff"/>
<use href="#m5a1ca1b4e6" x="342.528" y="108.672" style="fill: #00f0ff; stroke: #00f0ff"/>
<use href="#m5a1ca1b4e6" x="352.464" y="110.064" style="fill: #00f0ff; stroke: #00f0ff"/>
<use href="#m5a1ca1b4e6" x="358.608" y="112.128" style="fill: #00f0ff; stroke: #00f0ff"/>
</g>
</g>
<g id="line2d_123">
<path d="M 358.608 112.128 L 363.12 116.4 L 364.176 120.624 L 366.96 123.984 L 368.976 127.68 L 372.816 132.144 L 378.576 134.4 L 379.824 136.944 L 381.12 141.456 L 384.336 145.92 L 386.256 149.76 L 387.216 154.224 L 390.096 157.44 L 391.056 161.904 L 392.64 167.04 L 395.856 170.256 L 396.816 174.72 L 398.4 180.48 L 399.984 186.24 L 401.28 192 L 402.672 198.384 L 405.744 214.416 L 408.96 232.944 L 412.176 249.6 L 415.344 265.584 L 417.6 277.68 L 418.992 286.944 L 420.624 296.976 
" clip-path="url(#pba036d40d7)" style="fill: none; stroke: #00f0ff; stroke-width: 7.25; stroke-linecap: round"/>
</g>
<g id="line2d_124">
<path d="M 427.2 298.896 L 431.376 303.984 L 434.544 310.416 L 435.84 316.176 L 439.056 322.56 L 442.56 329.616 L 444.48 337.296 L 446.736 346.224 L 448.656 354.576 L 450.384 363.36 L 451.824 373.104 
" clip-path="url(#pba036d40d7)" style="fill: none; stroke: #00f0ff; stroke-width: 7.25; stroke-linecap: round"/>
</g>
<g id="line2d_125">
<path d="M 451.824 373.104 L 453.504 380.784 L 455.04 389.76 L 456.768 400.656 L 458.976 410.88 L 460.752 419.184 L 462.336 426.24 L 463.68 432 L 466.32 442.896 L 467.616 448.32 
" clip-path="url(#pba036d40d7)" style="fill: none; stroke: #00f0ff; stroke-width: 8; stroke-linecap: round"/>
</g>
<g id="line2d_126">
<path d="M 475.008 450.432 L 478.08 454.08 L 480.576 457.92 L 483.072 461.76 L 484.992 465.6 L 487.296 469.44 L 488.352 473.28 L 489.984 477.12 L 491.712 480.96 L 492.768 484.8 L 493.92 488.64 L 496.32 492.48 L 497.856 496.32 L 498.528 500.16 L 499.44 504 L 500.352 507.84 L 501.792 511.68 L 503.616 515.52 L 504.576 519.36 L 505.536 523.2 L 506.976 527.04 L 507.84 530.88 L 508.704 534.72 L 509.568 538.56 L 510.624 542.4 L 511.68 546.24 L 512.736 550.08 L 513.984 553.92 L 515.232 557.76 L 516.48 561.84 L 519.984 565.44 
" clip-path="url(#pba036d40d7)" style="fill: none; stroke: #00f0ff; stroke-width: 7.25; stroke-linecap: round"/>
</g>
<g id="line2d_127">
<path d="M 519.984 565.44 L 522.576 563.184 L 526.08 565.44 L 530.256 564.144 L 535.344 563.184 L 540.48 563.856 L 544.944 564.144 L 548.784 560.976 L 552.624 563.52 L 556.464 564.816 L 562.224 562.56 L 569.28 565.104 L 573.12 562.896 L 576.96 563.856 L 584.016 562.896 L 591.696 564.816 L 595.824 560.304 L 600 561.6 L 606.384 562.896 L 611.52 564.48 L 615.984 564.144 L 620.784 562.224 L 625.584 562.56 L 632.016 564.816 L 635.184 570.576 L 639.024 574.08 L 644.784 573.744 L 649.296 573.456 L 652.464 571.536 L 656.304 574.416 L 660.144 577.584 L 665.904 574.416 L 670.416 576.96 L 674.88 577.584 L 678.72 576.96 L 681.936 580.8 L 685.104 578.256 L 686.4 569.28 L 688.56 564.48 L 691.536 561.984 L 694.08 561.6 L 696.48 561.888 L 698.064 564.48 
" clip-path="url(#pba036d40d7)" style="fill: none; stroke: #00f0ff; stroke-width: 10; stroke-linecap: round"/>
</g>
<g id="line2d_128">
<path d="M 698.064 564.48 L 699.216 571.824 L 701.136 580.8 L 703.056 589.776 L 704.88 597.6 L 707.52 606.24 L 711.024 615.024 L 714.24 621.456 L 716.784 624.624 
" clip-path="url(#pba036d40d7)" style="fill: none; stroke: #00f0ff; stroke-width: 7.25; stroke-linecap: round"/>
</g>
<g id="line2d_129">
<path d="M 716.784 624.624 L 720 623.664 L 724.464 625.92 L 728.304 627.216 L 730.896 625.92 L 735.984 628.464 L 741.12 629.136 L 745.584 626.544 L 752.016 627.84 L 757.104 629.136 L 762.24 624.96 L 768 626.256 L 773.76 627.84 L 778.224 630.384 L 782.064 630.72 L 784.944 628.464 L 789.12 630.384 
" clip-path="url(#pba036d40d7)" style="fill: none; stroke: #00f0ff; stroke-width: 10; stroke-linecap: round"/>
</g>
<g id="line2d_130">
<path d="M 789.12 630.384 L 792.96 632.304 
" clip-path="url(#pba036d40d7)" style="fill: none; stroke: #00f0ff; stroke-width: 8.5; stroke-linecap: round"/>
</g>
<g id="line2d_131">
<path d="M 792.96 632.304 L 796.176 633.264 L 799.344 634.224 
" clip-path="url(#pba036d40d7)" style="fill: none; stroke: #00f0ff; stroke-width: 7.25; stroke-linecap: round"/>
</g>
<g id="line2d_132">
<path d="M 892.032 634.224 L 892.176 600 L 892.464 566.4 L 892.656 552 L 892.848 523.824 L 893.568 502.704 L 894.624 488.64 L 896.016 480.192 L 898.512 474.576 L 902.016 470.688 
" clip-path="url(#pba036d40d7)" style="fill: none; stroke: #00f0ff; stroke-width: 7.25; stroke-linecap: round"/>
</g>
<g id="line2d_133">
<path d="M 902.016 470.688 L 906.24 468.576 L 911.856 467.184 
" clip-path="url(#pba036d40d7)" style="fill: none; stroke: #00f0ff; stroke-width: 7.5; stroke-linecap: round"/>
</g>
<g id="line2d_134">
<path d="M 911.856 467.184 L 920.304 466.8 L 927.36 466.464 L 934.368 466.608 L 941.424 466.8 L 948.48 466.704 
" clip-path="url(#pba036d40d7)" style="fill: none; stroke: #00f0ff; stroke-width: 8; stroke-linecap: round"/>
</g>
<g id="line2d_135">
<path d="M 948.48 466.704 
" clip-path="url(#pba036d40d7)" style="fill: none; stroke: #ffeb3b; stroke-width: 1.5; stroke-linecap: square"/>
<defs>
<path id="m34301458e2" d="M 0 -10 L -2.245 -3.090 L -9.510 -3.090 L -3.632 1.180 L -5.877 8.090 L -0 3.819 L 5.877 8.090 L 3.632 1.180 L 9.510 -3.090 L 2.245 -3.090 z
" style="stroke: #ffeb3b; stroke-linejoin: bevel"/>
</defs>
<g clip-path="url(#pba036d40d7)">
<use href="#m34301458e2" x="948.48" y="466.704" style="fill: #ffeb3b; stroke: #ffeb3b; stroke-linejoin: bevel"/>
</g>
</g>
<g id="line2d_136">
<path d="M 82.08 433.608 L 989.616 433.608 
" clip-path="url(#pba036d40d7)" style="fill: none; stroke-dasharray: 5.55,2.4; stroke-dashoffset: 0; stroke: #ffeb3b; stroke-width: 1.5"/>
</g>
<g id="line2d_137">
<path d="M 82.08 539.184 L 989.616 539.184 
" clip-path="url(#pba036d40d7)" style="fill: none; stroke-dasharray: 5.55,2.4; stroke-dashoffset: 0; stroke: #ff55d0; stroke-width: 1.5"/>
</g>
<g id="patch_3">
<path d="M 82.08 662.88 L 82.08 28.32 
" style="fill: none; stroke: #f4f4f4; stroke-width: 0.9; stroke-linejoin: miter; stroke-linecap: square"/>
</g>
<g id="patch_4">
<path d="M 989.616 662.88 L 989.616 28.32 
" style="fill: none; stroke: #f4f4f4; stroke-width: 0.9; stroke-linejoin: miter; stroke-linecap: square"/>
</g>
<g id="patch_5">
<path d="M 82.08 662.88 L 989.616 662.88 
" style="fill: none; stroke: #f4f4f4; stroke-width: 0.9; stroke-linejoin: miter; stroke-linecap: square"/>
</g>
<g id="patch_6">
<path d="M 82.08 28.32 L 989.616 28.32 
" style="fill: none; stroke: #f4f4f4; stroke-width: 0.9; stroke-linejoin: miter; stroke-linecap: square"/>
</g>
<g id="patch_7">
<path d="M 171.844 216.180 
Q 225.805 154.492 278.663 94.067 
" style="fill: none; stroke: #ffeb3b; stroke-width: 1.5; stroke-linecap: round"/>
<path d="M 274.938 95.591 L 278.663 94.067 L 277.647 97.962 
" style="fill: none; stroke: #ffeb3b; stroke-width: 1.5; stroke-linecap: round"/>
</g>
<g id="text_31">
<g id="patch_8">
<g transform="translate(0 225.240) scale(1 1.04) translate(0 -225.240)"><path d="M 125.992 232.295 L 201.847 232.295 
Q 204.547 232.295 204.547 229.595 L 204.547 220.884 
Q 204.547 218.184 201.847 218.184 L 125.992 218.184 
Q 123.292 218.184 123.292 220.884 L 123.292 229.595 
Q 123.292 232.295 125.992 232.295 z
" style="fill: #1a1a2e; opacity: 0.85; stroke: #ffeb3b; stroke-linejoin: miter"/></g>
</g>
<text style="font-weight: 700; font-size: 9px; font-family: 'DejaVu Sans Mono', 'Liberation Mono', monospace; text-anchor: middle; fill: #ffeb3b" x="163.92" y="227.987" transform="rotate(-0 163.92 227.987)">16 x 3090 GPUs</text>
</g>
<g id="patch_9">
<path d="M 307.627 422.507 
Q 378.152 394.587 447.118 367.284 
" style="fill: none; stroke: #ffeb3b; stroke-width: 1.5; stroke-linecap: round"/>
<path d="M 443.108 366.936 L 447.118 367.284 L 444.433 370.283 
" style="fill: none; stroke: #ffeb3b; stroke-width: 1.5; stroke-linecap: round"/>
</g>
<g id="text_32">
<g id="patch_10">
<g transform="translate(0 430.800) scale(1 1.04) translate(0 -430.800)"><path d="M 251.461 437.855 L 321.898 437.855 
Q 324.598 437.855 324.598 435.155 L 324.598 426.444 
Q 324.598 423.744 321.898 423.744 L 251.461 423.744 
Q 248.761 423.744 248.761 426.444 L 248.761 435.155 
Q 248.761 437.855 251.461 437.855 z
" style="fill: #1a1a2e; opacity: 0.85; stroke: #ffeb3b; stroke-linejoin: miter"/></g>
</g>
<text style="font-weight: 700; font-size: 9px; font-family: 'DejaVu Sans Mono', 'Liberation Mono', monospace; text-anchor: middle; fill: #ffeb3b" x="286.68" y="433.547" transform="rotate(-0 286.68 433.547)">8 x 3090 GPUs</text>
</g>
<g id="patch_11">
<path d="M 525.326 439.238 
Q 557.460 500.575 588.815 560.425 
" style="fill: none; stroke: #ffeb3b; stroke-width: 1.5; stroke-linecap: round"/>
<path d="M 588.739 556.401 L 588.815 560.425 L 585.550 558.072 
" style="fill: none; stroke: #ffeb3b; stroke-width: 1.5; stroke-linecap: round"/>
</g>
<g id="text_33">
<g id="patch_12">
<g transform="translate(0 429.912) scale(1 1.04) translate(0 -429.912)"><path d="M 477.093 436.967 L 563.786 436.967 
Q 566.486 436.967 566.486 434.267 L 566.486 425.556 
Q 566.486 422.856 563.786 422.856 L 477.093 422.856 
Q 474.393 422.856 474.393 425.556 L 474.393 434.267 
Q 474.393 436.967 477.093 436.967 z
" style="fill: #1a1a2e; opacity: 0.85; stroke: #ffeb3b; stroke-linejoin: miter"/></g>
</g>
<text style="font-weight: 700; font-size: 9px; font-family: 'DejaVu Sans Mono', 'Liberation Mono', monospace; text-anchor: middle; fill: #ffeb3b" x="520.44" y="432.659" transform="rotate(-0 520.44 432.659)">1 x GTX 1080 GPU</text>
</g>
<g id="patch_13">
<path d="M 650.340 697.599 
Q 701.616 663.000 751.501 629.339 
" style="fill: none; stroke: #ffeb3b; stroke-width: 1.5; stroke-linecap: round"/>
<path d="M 747.510 629.860 L 751.501 629.339 L 749.523 632.845 
" style="fill: none; stroke: #ffeb3b; stroke-width: 1.5; stroke-linecap: round"/>
</g>
<g id="text_34">
<g id="patch_14">
<g transform="translate(0 706.272) scale(1 1.04) translate(0 -706.272)"><path d="M 583.305 713.327 L 691.670 713.327 
Q 694.370 713.327 694.370 710.627 L 694.370 701.916 
Q 694.370 699.216 691.670 699.216 L 583.305 699.216 
Q 580.605 699.216 580.605 701.916 L 580.605 710.627 
Q 580.605 713.327 583.305 713.327 z
" style="fill: #1a1a2e; opacity: 0.85; stroke: #ffeb3b; stroke-linejoin: miter"/></g>
</g>
<text style="font-weight: 700; font-size: 9px; font-family: 'DejaVu Sans Mono', 'Liberation Mono', monospace; text-anchor: middle; fill: #ffeb3b" x="637.488" y="709.019" transform="rotate(-0 637.488 709.019)">1 x Xeon 12-core CPU</text>
</g>
<g id="patch_15">
<path d="M 809.995 358.765 
Q 863.339 411.931 915.496 463.913 
" style="fill: none; stroke: #ffeb3b; stroke-width: 1.5; stroke-linecap: round"/>
<path d="M 914.216 460.097 L 915.496 463.913 L 911.675 462.647 
" style="fill: none; stroke: #ffeb3b; stroke-width: 1.5; stroke-linecap: round"/>
</g>
<g id="text_35">
<g id="patch_16">
<g transform="translate(0 349.800) scale(1 1.04) translate(0 -349.800)"><path d="M 730.562 356.855 L 871.437 356.855 
Q 874.137 356.855 874.137 354.155 L 874.137 345.444 
Q 874.137 342.744 871.437 342.744 L 730.562 342.744 
Q 727.862 342.744 727.862 345.444 L 727.862 354.155 
Q 727.862 356.855 730.562 356.855 z
" style="fill: #1a1a2e; opacity: 0.85; stroke: #ffeb3b; stroke-linejoin: miter"/></g>
</g>
<text style="font-weight: 700; font-size: 9px; font-family: 'DejaVu Sans Mono', 'Liberation Mono', monospace; text-anchor: middle; fill: #ffeb3b" x="801" y="352.547" transform="rotate(-0 801 352.547)">1 x GTX 1080 GPU (current)</text>
</g>
<g id="text_36">
<text style="font-weight: 700; font-size: 16px; font-family: 'DejaVu Sans', 'Liberation Sans', sans-serif; text-anchor: middle; fill: #00f0ff; letter-spacing: 0.014px" x="535.848" y="22.560" transform="rotate(-0 535.848 22.560)">Ethereum Homestead Resurrection - Difficulty Reduction</text>
</g>
<g id="legend_1">
<g id="patch_17">
<path d="M 827.584 80.354 L 982.616 80.354 
Q 984.616 80.354 984.616 78.354 L 984.616 35.32 
Q 984.616 33.32 982.616 33.32 L 827.584 33.32 
Q 825.584 33.32 825.584 35.32 L 825.584 78.354 
Q 825.584 80.354 827.584 80.354 z
" style="fill: #1a1a2e; opacity: 0.8; stroke: #2c2c4c; stroke-linejoin: miter"/>
</g>
<g id="line2d_138">
<path d="M 829.584 41.418 L 839.584 41.418 L 849.584 41.418 
" style="fill: none; stroke: #ffeb3b; stroke-width: 1.5; stroke-linecap: square"/>
<g>
<use href="#m34301458e2" x="839.584" y="41.418" style="fill: #ffeb3b; stroke: #ffeb3b; stroke-linejoin: bevel"/>
</g>
</g>
<g id="text_37">
<text style="font-size: 10px; font-family: 'DejaVu Sans', 'Liberation Sans', sans-serif; text-anchor: start; fill: #ffffff" x="857.584" y="44.918" transform="rotate(-0 857.584 44.918)">Current: 0.38 GH</text>
</g>
<g id="line2d_139">
<path d="M 829.584 56.096 L 839.584 56.096 L 849.584 56.096 
" style="fill: none; stroke-dasharray: 5.55,2.4; stroke-dashoffset: 0; stroke: #ffeb3b; stroke-width: 1.5"/>
</g>
<g id="text_38">
<text style="font-size: 10px; font-family: 'DejaVu Sans', 'Liberation Sans', sans-serif; text-anchor: start; fill: #ffffff" x="857.584" y="59.596" transform="rotate(-0 857.584 59.596)">1 GH (GPU target)</text>
</g>
<g id="line2d_140">
<path d="M 829.584 70.774 L 839.584 70.774 L 849.584 70.774 
" style="fill: none; stroke-dasharray: 5.55,2.4; stroke-dashoffset: 0; stroke: #ff55d0; stroke-width: 1.5"/>
</g>
<g id="text_39">
<text style="font-size: 10px; font-family: 'DejaVu Sans', 'Liberation Sans', sans-serif; text-anchor: start; fill: #ffffff" x="857.584" y="74.274" transform="rotate(-0 857.584 74.274)">46 MH (CPU equilibrium)</text>
</g>
</g>
</g>
</g>
<defs>
<clipPath id="pba036d40d7">
<rect x="82.08" y="28.32" width="907.536" height="634.56"/>
</clipPath>
</defs>
</svg>

</body>
</html>
